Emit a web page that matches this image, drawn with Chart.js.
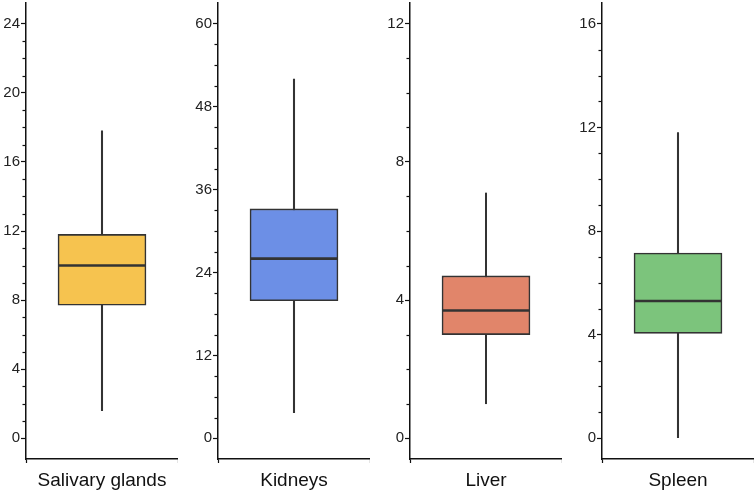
<!DOCTYPE html>
<html>
<head>
<meta charset="utf-8">
<script src="https://cdn.jsdelivr.net/npm/chart.js@4/dist/chart.umd.min.js"></script>
<style>
  html, body { margin: 0; padding: 0; background: #fff; }
  #wrap { position: relative; width: 756px; height: 495px; overflow: hidden; }
  canvas { position: absolute; top: 0; }
</style>
</head>
<body>
<div id="wrap"></div>
<script>
const categories   = ['Salivary glands', 'Kidneys', 'Liver', 'Spleen'];
const whiskerLow   = [1.6, 3.7, 1.0, 0.0];
const quartile1    = [7.7, 19.9, 3.0, 4.05];
const medians      = [10.0, 26.0, 3.7, 5.3];
const quartile3    = [11.8, 33.2, 4.7, 7.15];
const whiskerHigh  = [17.8, 52.0, 7.1, 11.8];
const axisMax      = [24, 60, 12, 16];
const majorStep    = [4, 12, 4, 4];
const minorStep    = [1, 3, 1, 1];
const boxColors    = ['#F6C34F', '#6C8FE6', '#E1856A', '#7CC47C'];

const panelLeft = [0, 192, 384, 576];
const AXIS_W = 26, PLOT_W = 152, H = 495;
const FONT = "'Liberation Sans', Arial, sans-serif";

const minorTickPlugin = {
  id: 'minorTicks',
  afterDraw(chart, args, opts) {
    const y = chart.scales.y;
    const ctx = chart.ctx;
    const x0 = chart.chartArea.left;
    ctx.save();
    ctx.strokeStyle = '#111';
    ctx.lineWidth = 1.2;
    for (let v = 0; v <= opts.max + 1e-9; v += opts.step) {
      if (Math.abs(v / opts.major - Math.round(v / opts.major)) < 1e-9) continue;
      const py = Math.round(y.getPixelForValue(v)) + 0.5;
      ctx.beginPath();
      ctx.moveTo(x0 - 3.5, py);
      ctx.lineTo(x0, py);
      ctx.stroke();
    }
    ctx.restore();
  }
};

const medianPlugin = {
  id: 'medianLine',
  afterDatasetsDraw(chart, args, opts) {
    const meta = chart.getDatasetMeta(1);
    const bar = meta.data[0];
    if (!bar) return;
    const y = chart.scales.y;
    const py = y.getPixelForValue(opts.value);
    const ctx = chart.ctx;
    ctx.save();
    ctx.strokeStyle = '#333';
    ctx.lineWidth = 2.6;
    ctx.beginPath();
    ctx.moveTo(bar.x - bar.width / 2, py);
    ctx.lineTo(bar.x + bar.width / 2, py);
    ctx.stroke();
    ctx.restore();
  }
};

categories.forEach((cat, i) => {
  const c = document.createElement('canvas');
  c.width = AXIS_W + PLOT_W;
  c.height = H;
  c.style.left = panelLeft[i] + 'px';
  document.getElementById('wrap').appendChild(c);

  const lo = -0.05 * axisMax[i], hi = axisMax[i] * 1.05;
  const majors = [];
  for (let v = 0; v <= axisMax[i] + 1e-9; v += majorStep[i]) majors.push(v);

  new Chart(c, {
    type: 'bar',
    data: {
      labels: [cat],
      datasets: [
        {
          data: [[whiskerLow[i], whiskerHigh[i]]],
          backgroundColor: '#333',
          borderWidth: 0,
          barThickness: 1.4,
          grouped: false,
          order: 2
        },
        {
          data: [[quartile1[i], quartile3[i]]],
          backgroundColor: boxColors[i],
          borderColor: '#333',
          borderWidth: 1.6,
          borderSkipped: false,
          barThickness: 88,
          grouped: false,
          order: 1
        }
      ]
    },
    options: {
      responsive: false,
      animation: false,
      events: [],
      layout: { padding: { top: 3, left: 0, right: 0, bottom: 0 } },
      plugins: {
        legend: { display: false },
        tooltip: { enabled: false },
        minorTicks: { max: axisMax[i], step: minorStep[i], major: majorStep[i] },
        medianLine: { value: medians[i] }
      },
      scales: {
        x: {
          offset: true,
          grid: { display: true, drawOnChartArea: false, tickLength: 4, tickColor: '#111', tickWidth: 1.2 },
          border: { display: true, color: '#111', width: 1.5 },
          ticks: { color: '#111', font: { family: FONT, size: 19 }, padding: 6 },
          afterFit(scale) { scale.height = 36; scale.paddingLeft = 0; scale.paddingRight = 0; }
        },
        y: {
          min: lo,
          max: hi,
          grid: { display: true, drawOnChartArea: false, tickLength: 5, tickColor: '#111', tickWidth: 1.2 },
          border: { display: true, color: '#111', width: 1.5 },
          ticks: { color: '#222', font: { family: FONT, size: 15 }, padding: 1 },
          afterBuildTicks(scale) { scale.ticks = majors.map(v => ({ value: v })); },
          afterFit(scale) { scale.width = AXIS_W; scale.paddingTop = 0; scale.paddingBottom = 0; }
        }
      }
    },
    plugins: [minorTickPlugin, medianPlugin]
  });
});
</script>
</body>
</html>
